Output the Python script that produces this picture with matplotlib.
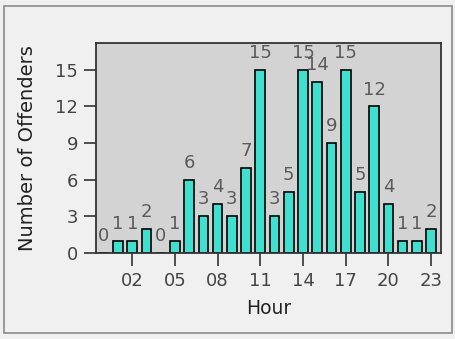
import matplotlib
matplotlib.use("Agg")
import matplotlib.pyplot as plt
from matplotlib.patches import Rectangle

plt.rcParams['font.family'] = ['DejaVu Sans']

hours = list(range(24))
offenders = [0, 1, 1, 2, 0, 1, 6, 3, 4, 3, 7, 15, 3, 5, 15, 14, 9, 15, 5, 12, 4, 1, 1, 2]
xticks = [2, 5, 8, 11, 14, 17, 20, 23]
xticklabels = ['02', '05', '08', '11', '14', '17', '20', '23']
yticks = [0, 3, 6, 9, 12, 15]

fig = plt.figure(figsize=(4.56, 3.39), dpi=100, facecolor='#f0f0f0')
# outer frame
fig.patches.append(Rectangle((4/456, 6/339), 448/456, 327/339, transform=fig.transFigure,
                             fill=False, edgecolor='#8a8a8a', linewidth=1.2))

ax = fig.add_axes([96/456, 1 - 253/339, 345/456, 210/339])
ax.set_facecolor('#d3d3d3')
ax.bar(hours, offenders, width=0.68, color='#40e0d0', edgecolor='black', linewidth=1.2)
for h, v in zip(hours, offenders):
    ax.text(h, v + 0.65, str(v), ha='center', va='bottom', fontsize=13,
            color='#5a5a5a', clip_on=False)

ax.set_xlim(-0.55, 23.7)
ax.set_ylim(0, 17.2)
ax.set_xticks(xticks)
ax.set_xticklabels(xticklabels)
ax.set_yticks(yticks)
ax.tick_params(axis='x', length=9.5, width=1.2, pad=4, color='#333333', labelsize=13, labelcolor='#444444')
ax.tick_params(axis='y', length=9, width=1.2, pad=4, color='#333333', labelsize=13, labelcolor='#444444')
for s in ax.spines.values():
    s.set_color('#333333')
    s.set_linewidth(1.3)

ax.set_xlabel('Hour', fontsize=13.5, color='#222222')
ax.xaxis.set_label_coords(0.5, (253 - 308) / 210)
ax.xaxis.label.set_va('center')
ax.set_ylabel('Number of Offenders', fontsize=14, color='#222222')
ax.yaxis.set_label_coords((28 - 96) / 345, 0.5)
ax.yaxis.label.set_va('center')
ax.yaxis.label.set_ha('center')

fig.savefig('out.png', dpi=100, facecolor=fig.get_facecolor())
